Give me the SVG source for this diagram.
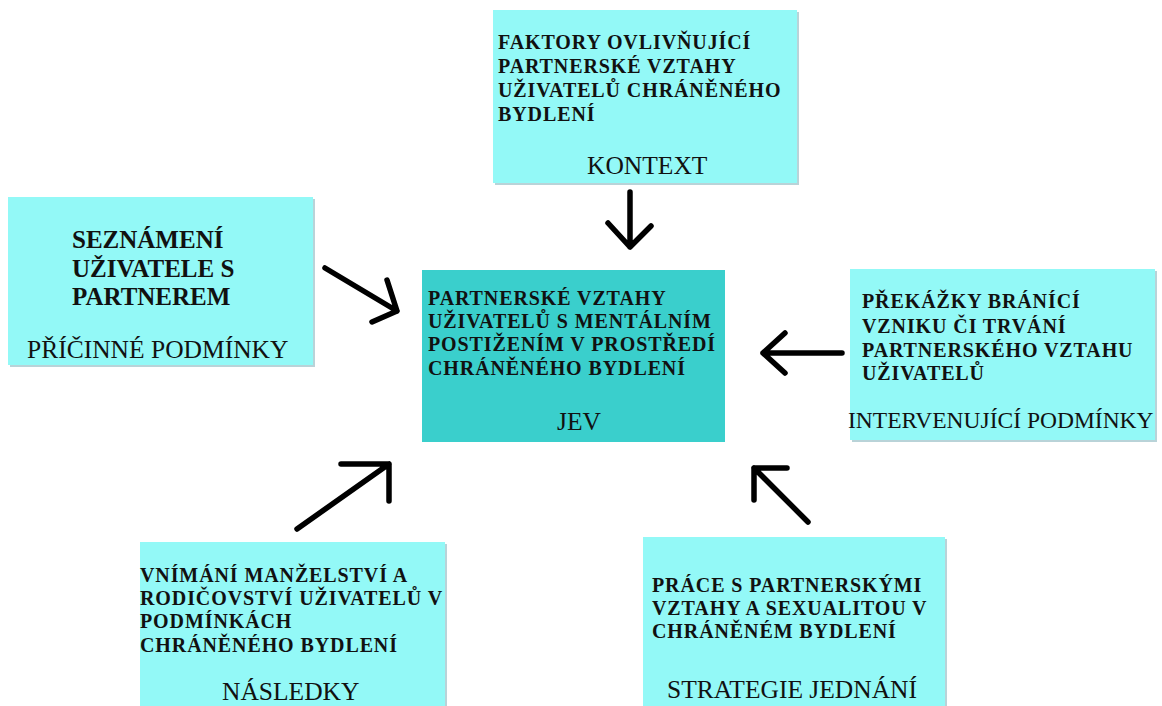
<svg xmlns="http://www.w3.org/2000/svg" width="1162" height="706" viewBox="0 0 1162 706">
<style>
.box{fill:#93F9F7}
.core{fill:#3ACFCC}
.shadow{fill:#7FAFB8;opacity:0.55}
.b{font-family:"Liberation Serif","Times New Roman",serif;font-weight:bold;font-size:20px;letter-spacing:0.9px;fill:#111}
.bl{font-family:"Liberation Serif","Times New Roman",serif;font-weight:bold;font-size:25px;fill:#111}
.r{font-family:"Liberation Serif","Times New Roman",serif;font-size:25.5px;fill:#111}
.arr{fill:none;stroke:#000;stroke-width:5.5;stroke-linecap:round;stroke-linejoin:round}
</style>
<rect width="1162" height="706" fill="#fff"/>
<g id="kontext">
<rect class="shadow" x="495" y="12" width="304" height="173"/>
<rect class="box" x="493" y="10" width="304" height="173"/>
<text class="b" x="498" y="49">FAKTORY OVLIVŇUJÍCÍ</text>
<text class="b" x="498" y="73">PARTNERSKÉ VZTAHY</text>
<text class="b" x="498" y="97">UŽIVATELŮ CHRÁNĚNÉHO</text>
<text class="b" x="498" y="121">BYDLENÍ</text>
<text class="r" x="587" y="174">KONTEXT</text>
</g>
<g id="pricinne">
<rect class="shadow" x="10" y="199" width="305" height="168"/>
<rect class="box" x="8" y="197" width="305" height="168"/>
<text class="bl" x="72" y="248">SEZNÁMENÍ</text>
<text class="bl" x="72" y="277">UŽIVATELE S</text>
<text class="bl" x="72" y="305">PARTNEREM</text>
<text class="r" x="27" y="358">PŘÍČINNÉ PODMÍNKY</text>
</g>
<g id="jev">
<rect class="core" x="422" y="270" width="303" height="172"/>
<text class="b" x="428" y="305">PARTNERSKÉ VZTAHY</text>
<text class="b" x="428" y="328">UŽIVATELŮ S MENTÁLNÍM</text>
<text class="b" x="428" y="351">POSTIŽENÍM V PROSTŘEDÍ</text>
<text class="b" x="428" y="375">CHRÁNĚNÉHO BYDLENÍ</text>
<text class="r" x="557" y="430">JEV</text>
</g>
<g id="intervenujici">
<rect class="shadow" x="852" y="271" width="305" height="171"/>
<rect class="box" x="850" y="269" width="305" height="171"/>
<text class="b" x="862" y="308">PŘEKÁŽKY BRÁNÍCÍ</text>
<text class="b" x="862" y="333">VZNIKU ČI TRVÁNÍ</text>
<text class="b" x="862" y="357">PARTNERSKÉHO VZTAHU</text>
<text class="b" x="862" y="380">UŽIVATELŮ</text>
<text class="r" x="848" y="428" style="font-size:23.5px">INTERVENUJÍCÍ PODMÍNKY</text>
</g>
<g id="nasledky">
<rect class="shadow" x="142" y="544" width="305" height="170"/>
<rect class="box" x="140" y="542" width="305" height="170"/>
<text class="b" x="140" y="582">VNÍMÁNÍ MANŽELSTVÍ A</text>
<text class="b" x="140" y="605">RODIČOVSTVÍ UŽIVATELŮ V</text>
<text class="b" x="140" y="628">PODMÍNKÁCH</text>
<text class="b" x="140" y="652">CHRÁNĚNÉHO BYDLENÍ</text>
<text class="r" x="222" y="700">NÁSLEDKY</text>
</g>
<g id="strategie">
<rect class="shadow" x="645" y="539" width="302" height="170"/>
<rect class="box" x="643" y="537" width="302" height="170"/>
<text class="b" x="652" y="592">PRÁCE S PARTNERSKÝMI</text>
<text class="b" x="652" y="615">VZTAHY A SEXUALITOU V</text>
<text class="b" x="652" y="638">CHRÁNĚNÉM BYDLENÍ</text>
<text class="r" x="667" y="698">STRATEGIE JEDNÁNÍ</text>
</g>
<g id="connectors">
<path class="arr" d="M630 192 L630 247 M608 223 L630 247 L651 226"/>
<path class="arr" d="M325 268 L397 311 M387 280 L397 311 L372 322"/>
<path class="arr" d="M842 353 L763 353 M785 333 L763 353 L785 373"/>
<path class="arr" d="M297 529 L389 464 M341 464 L389 464 L389 501"/>
<path class="arr" d="M808 522 L754 468 M787 468 L754 468 L754 500"/>
</g>
</svg>
